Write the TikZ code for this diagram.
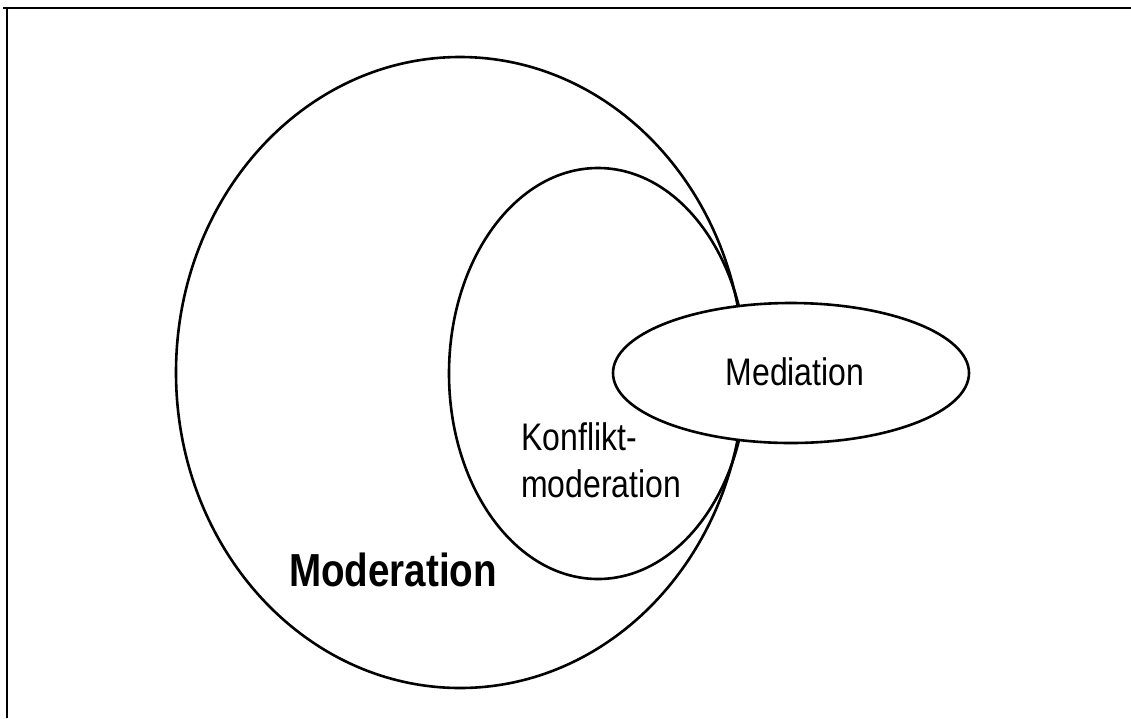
\documentclass[tikz,border=0pt]{standalone}
\usepackage{fontspec}
\setmainfont{Liberation Sans}
\usetikzlibrary{shapes.geometric}
\newcommand{\tallText}[1]{\scalebox{1}[1.2]{#1}}
\begin{document}
\begin{tikzpicture}[x=1pt,y=-1pt,
  ring/.style={draw=black,line width=2.6pt},
  lbl/.style={inner sep=0pt,font=\fontsize{32}{39}\selectfont}]
\useasboundingbox (0,0) rectangle (1131,718);
\draw[line width=2.4pt] (3,8) coordinate (tl0) -- (1131,8) coordinate (tr);
\draw[line width=2.2pt] (7,8) coordinate (tl) -- (7,718) coordinate (bl);
\draw[ring] (460,372.5) ellipse [x radius=284, y radius=315.5];
\coordinate (big) at (460,372.5);
\draw[ring] (598,373.5) ellipse [x radius=149, y radius=205.5];
\coordinate (inner) at (598,373.5);
\filldraw[ring,fill=white] (791,373) ellipse [x radius=178, y radius=70];
\node[lbl] (med) at (795,372) {\tallText{Mediation}};
\node[lbl,anchor=west] (konf) at (521,465) {\tallText{\begin{tabular}{@{}l@{}}Konflikt-\\moderation\end{tabular}}};
\node[inner sep=0pt,font=\fontsize{38.6}{46}\selectfont\bfseries] (mod) at (393,570) {\tallText{Moderation}};
\end{tikzpicture}
\end{document}
